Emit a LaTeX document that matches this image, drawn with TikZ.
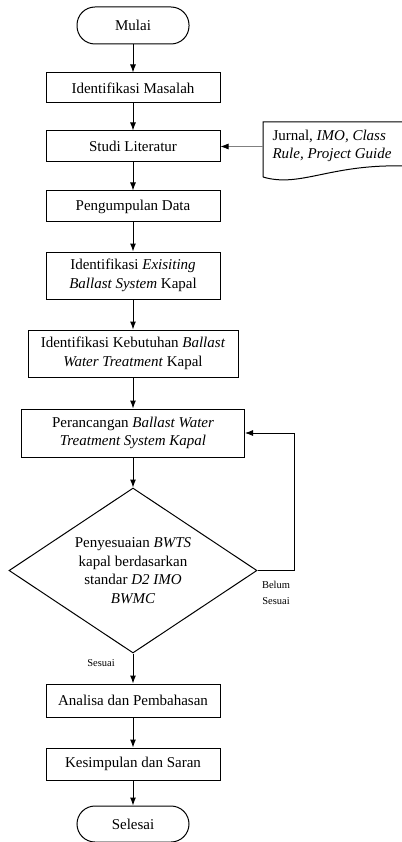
\documentclass[tikz,border=0pt]{standalone}
\usepackage{fontspec}
\setmainfont{Liberation Serif}
\usetikzlibrary{arrows.meta,shapes.geometric}

\begin{document}
\begin{tikzpicture}[
    x=1pt, y=-1pt,
    font=\fontsize{15}{18.5}\selectfont,
    box/.style={draw, line width=1pt, minimum width=174pt, minimum height=31pt, inner sep=0pt, align=center},
    term/.style={draw, line width=1pt, rounded corners=18pt, minimum width=112pt, minimum height=37pt, inner sep=0pt},
    decision/.style={draw, line width=1pt, diamond, aspect=1.5, minimum width=248pt, minimum height=165pt, inner sep=0pt, align=center},
    flow/.style={line width=1pt, -{Latex[length=8pt,width=6pt,black]}},
    small/.style={font=\fontsize{10.5}{16}\selectfont, align=center}
  ]

  \useasboundingbox (0,0) rectangle (401,842);

  \node[term] (start) at (133,25.5) {Mulai};
  \node[box, minimum height=30pt] (problem) at (133,88) {Identifikasi Masalah};
  \node[box] (study) at (133,146.5) {Studi Literatur};
  \node[box] (data) at (133,206.5) {Pengumpulan Data};
  \node[box, minimum height=47pt] (existing) at (133,275.5) {Identifikasi \textit{Exisiting}\\\textit{Ballast System} Kapal};
  \node[box, minimum width=210pt, minimum height=47pt] (needs) at (133,353.5) {Identifikasi Kebutuhan \textit{Ballast}\\\textit{Water Treatment} Kapal};
  \node[box, minimum width=223pt, minimum height=48pt] (design) at (133,433) {Perancangan \textit{Ballast Water}\\\textit{Treatment System Kapal}};
  \node[decision] (check) at (133,570.5) {Penyesuaian \textit{BWTS}\\kapal berdasarkan\\standar \textit{D2 IMO}\\\textit{BWMC}};
  \node[box, minimum height=33pt] (analysis) at (133,700.5) {Analisa dan Pembahasan};
  \node[box, minimum height=32pt] (summary) at (133,764) {Kesimpulan dan Saran};
  \node[term, minimum height=36pt] (stop) at (133,824) {Selesai};

  \draw[line width=1pt] (263,177) -- (263,122) -- (403,122) -- (403,166)
    .. controls (330,164) and (300,188) .. (263,177);
  \node[anchor=west, align=left] (source) at (269,146) {Jurnal, \textit{IMO, Class}\\\textit{Rule, Project Guide}};
  \coordinate (srcin) at (263,146.5);

  \draw[flow] (start) -- (problem);
  \draw[flow] (problem) -- (study);
  \draw[flow] (study) -- (data);
  \draw[flow] (data) -- (existing);
  \draw[flow] (existing) -- (needs);
  \draw[flow] (needs) -- (design);
  \draw[flow] (design) -- (check);
  \draw[flow] (check) -- (analysis);
  \draw[flow] (analysis) -- (summary);
  \draw[flow] (summary) -- (stop);
  \draw[flow, gray, line width=0.8pt] (srcin) -- (study);
  \draw[flow, line width=0.8pt] (check.east) -- ++(37,0) |- (design.east);

  \node[small] (notok) at (276,593) {Belum\\Sesuai};
  \node[small] (ok) at (101,663) {Sesuai};

\end{tikzpicture}
\end{document}
